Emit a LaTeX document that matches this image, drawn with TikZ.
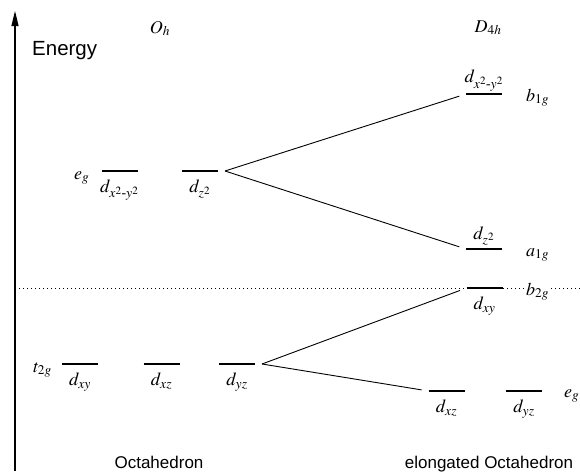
\documentclass[tikz,border=0pt]{standalone}
\usepackage{amsmath}
\usepackage{mathptmx}
\usepackage{fontspec}
\setmainfont{Liberation Serif}
\newfontfamily\capsans{Liberation Sans}
\usetikzlibrary{arrows.meta, positioning, calc}

\tikzset{
  level/.style={minimum width=36pt, minimum height=0pt, inner sep=0pt, outer sep=0pt},
  split/.style={line width=0.9pt, shorten >=7pt},
  orb/.style={font=\fontsize{18.5}{22}\selectfont, inner sep=1pt},
  sym/.style={font=\fontsize{18}{22}\selectfont, inner sep=0pt, anchor=base west},
  caption/.style={font=\capsans\fontsize{17}{20}\selectfont, inner sep=0pt, anchor=base},
}

\begin{document}
\begin{tikzpicture}[x=1pt, y=-1pt]
  \useasboundingbox (0,0) rectangle (580,471);
  % Energy axis
  \draw[line width=1.2pt, -{Triangle[length=15pt,width=7pt]}] (15,471) -- (15,11);
  \node[caption, anchor=base west] (energy) at (32,55) {\fontsize{20.5}{22}\selectfont Energy};
  % barycentre of the t2g set
  \draw[line width=0.8pt, dash pattern=on 0.8pt off 3.2pt] (15,288) -- (580,288);

  % Octahedron - O_h levels
  \node[sym, anchor=base] (ohsym) at (160,33) {$O_h$};
  \node[level] (ox2) at (119.5,171) {};
  \node[level] (oz2) at (200,171) {};
  \node[level] (oxy) at (80,364) {};
  \node[level] (oxz) at (161.5,364) {};
  \node[level] (oyz) at (237,364) {};
  \node[orb, below=8pt of ox2] (lox2) {$d_{x^2\text{-}y^2}$};
  \node[orb, below=8pt of oz2] (loz2) {$d_{z^2}$};
  \node[orb, below=8pt of oxy] (loxy) {$d_{xy}$};
  \node[orb, below=8pt of oxz] (loxz) {$d_{xz}$};
  \node[orb, below=8pt of oyz] (loyz) {$d_{yz}$};
  \node[sym, anchor=base east] (oeg) at ($(ox2.west)+(-12,8)$) {$e_g$};
  \node[sym, anchor=base east] (ot2g) at ($(oxy.west)+(-10,8)$) {$t_{2g}$};

  % elongated Octahedron - D_4h levels
  \node[sym, anchor=base] (dsym) at (488,32) {$D_{4h}$};
  \node[level] (dx2) at (484,94) {};
  \node[level] (dz2) at (484,249) {};
  \node[level] (dxy) at (484.5,288) {};
  \node[level] (dxz) at (446.5,391) {};
  \node[level] (dyz) at (524,391) {};
  \node[orb, above=2pt of dx2] (ldx2) {$d_{x^2\text{-}y^2}$};
  \node[orb, above=2pt of dz2] (ldz2) {$d_{z^2}$};
  \node[orb, below=8pt of dxy] (ldxy) {$d_{xy}$};
  \node[orb, below=8pt of dxz] (ldxz) {$d_{xz}$};
  \node[orb, below=8pt of dyz] (ldyz) {$d_{yz}$};
  \node[sym] (db1g) at (526,101) {$b_{1g}$};
  \node[sym] (da1g) at (526,256) {$a_{1g}$};
  \node[sym, fill=white, inner xsep=2pt] (db2g) at (524,295) {$b_{2g}$};
  \node[sym] (deg) at (564,397) {$e_g$};

  % level bars
  \foreach \n in {ox2,oz2,oxy,oxz,oyz,dx2,dz2,dxy,dxz,dyz}
    \draw[line width=1.8pt] (\n.west) -- (\n.east);

  % splitting
  \coordinate (egsplit) at ($(oz2.east)+(7,0)$);
  \coordinate (t2gsplit) at ($(oyz.east)+(7,0)$);
  \draw[split] (egsplit) -- (dx2.west);
  \draw[split] (egsplit) -- (dz2.west);
  \draw[split] (t2gsplit) -- (dxy.west);
  \draw[split] (t2gsplit) -- (dxz.west);

  % captions
  \node[caption] (octa) at (159,468) {Octahedron};
  \node[caption] (elong) at (489,468) {elongated Octahedron};
\end{tikzpicture}
\end{document}
